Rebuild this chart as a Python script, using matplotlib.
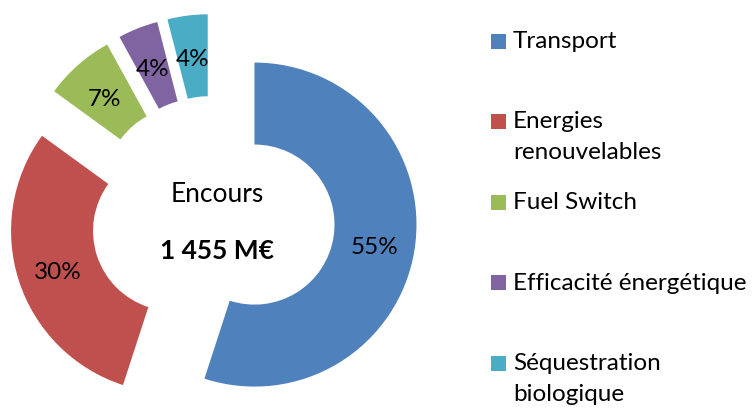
import matplotlib
matplotlib.use("Agg")
import matplotlib.pyplot as plt
from matplotlib.patches import Rectangle

plt.rcParams['font.family'] = ['Lato', 'DejaVu Sans']

categories = ["Transport", "Energies\nrenouvelables", "Fuel Switch",
              "Efficacité énergétique", "Séquestration\nbiologique"]
values = [55, 30, 7, 4, 4]
colors = ["#4F81BD", "#C0504D", "#9BBB59", "#8064A2", "#4BACC6"]
center_title = "Encours"
center_value = "1 455 M€"

W, H = 753, 408
fig = plt.figure(figsize=(W / 100, H / 100), dpi=100)
ax = fig.add_axes([0, 0, 1, 1])
ax.set_xlim(0, W)
ax.set_ylim(0, H)
ax.set_aspect('equal')
ax.axis('off')

R = 162
cx, cy = 213, H - 218
expl = 42
wedges, texts, autotexts = ax.pie(
    values, colors=colors, startangle=90, counterclock=False,
    radius=R, center=(cx, cy), explode=[expl] * len(values),
    wedgeprops=dict(width=R * 0.506, linewidth=0),
    autopct='%1.0f%%', pctdistance=0.75,
    textprops=dict(fontsize=17.5, color='black'))
for t in autotexts:
    x, y = t.get_position()
    t.set_position((x, y - 4))
ax.set_xlim(0, W)
ax.set_ylim(0, H)

ax.text(217, H - 194, center_title, ha='center', va='center', fontsize=19)
ax.text(217, H - 251, center_value, ha='center', va='center', fontsize=19,
        fontweight='bold')

# legend
y0 = 41
step = 80.5
for i, (lab, col) in enumerate(zip(categories, colors)):
    yc = y0 + i * step
    ax.add_patch(Rectangle((491, H - yc - 7.5), 15, 15, facecolor=col,
                           edgecolor='none'))
    ax.text(513, H - yc + 10, lab, ha='left', va='top', fontsize=17.5,
            linespacing=1.56)

fig.savefig("out.png", dpi=100)
